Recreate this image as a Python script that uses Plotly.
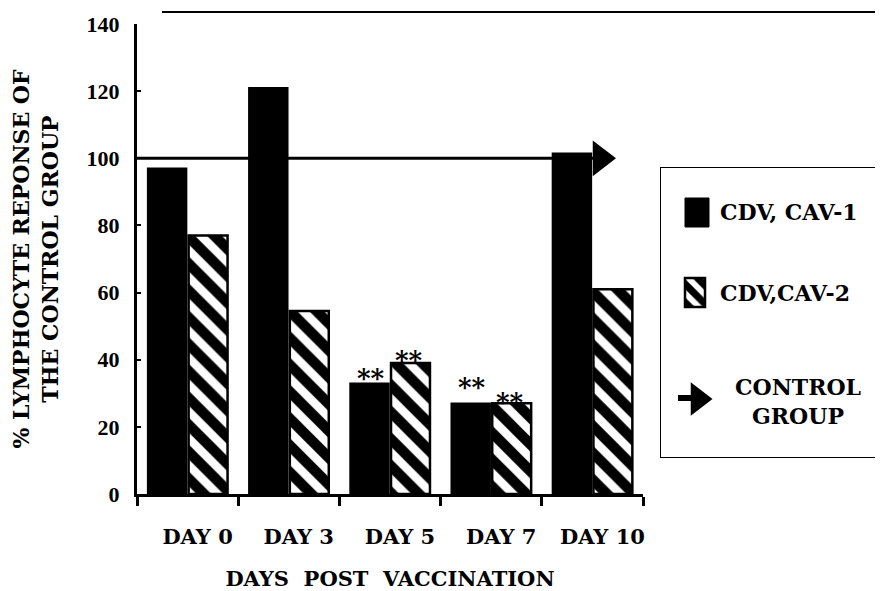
import plotly.graph_objects as go

# ---------------- data ----------------
categories = ["DAY 0", "DAY 3", "DAY 5", "DAY 7", "DAY 10"]
cdv_cav1 = [97, 121, 33, 27, 101.5]
cdv_cav2 = [77, 54.5, 39, 27, 61]
signif_cav1 = ["", "", "**", "**", ""]
signif_cav2 = ["", "", "**", "**", ""]
control_level = 100
y_ticks = [0, 20, 40, 60, 80, 100, 120, 140]

# ---------------- layout geometry (page pixels; page has an 8px body margin) ----
OFF = 8
W, H = 883 - OFF, 591 - OFF
PLOT_L, PLOT_R, PLOT_T, PLOT_B = 137, 643, 24, 494
ML = PLOT_L - OFF
MT = PLOT_T - OFF
MR = 3
MB = H - (PLOT_B - OFF)
PW = W - ML - MR
PH = H - MT - MB
XDOM_MAIN = (PLOT_R - PLOT_L) / PW


def px_x(px):
    return (px - PLOT_L) / PW


def px_y(py):
    return (PLOT_B - py) / PH


SERIF = "DejaVu Serif, Liberation Serif, serif"
NUMF = "Liberation Serif, DejaVu Serif, serif"
BLACK = "black"

BARGAP = 0.19
STAR_SHIFT_X = 19
star_yshift_1 = [0, 0, 5, 16, 0]
star_yshift_2 = [0, 0, 3, 1, 0]

hatch = dict(shape="\\", fgcolor=BLACK, bgcolor="white", fgopacity=1,
             fillmode="replace", size=19, solidity=0.55)

fig = go.Figure()

fig.add_trace(go.Bar(
    name="CDV, CAV-1", x=categories, y=cdv_cav1,
    marker=dict(color=BLACK, line=dict(color=BLACK, width=1.5)),
    showlegend=False,
))
fig.add_trace(go.Bar(
    name="CDV,CAV-2", x=categories, y=cdv_cav2,
    marker=dict(color=BLACK, line=dict(color=BLACK, width=2.5), pattern=hatch),
    showlegend=False,
))

# control group line with arrow head (overlay numeric axis aligned with categories)
n = len(categories)
arrow_center = n - 0.92
fig.add_trace(go.Scatter(
    name="CONTROL GROUP", x=[-0.5, arrow_center], y=[control_level, control_level],
    xaxis="x2", yaxis="y", mode="lines",
    line=dict(color=BLACK, width=3), showlegend=False, hoverinfo="skip",
))
fig.add_trace(go.Scatter(
    x=[arrow_center], y=[control_level], xaxis="x2", yaxis="y", mode="markers",
    marker=dict(symbol="triangle-right", size=31, color=BLACK),
    showlegend=False, hoverinfo="skip",
))

# ---------------- custom legend (axes x3/y3 span the legend box, pixel units) ----
LEG_L, LEG_R, LEG_T, LEG_B = 660, 880, 167, 458
LW, LH = LEG_R - LEG_L, LEG_B - LEG_T


def lx(px):
    return px - LEG_L


def ly(py):
    return LEG_B - py


# hatched swatch as a tiny bar
fig.add_trace(go.Bar(
    x=[(lx(685) + lx(705)) / 2], y=[ly(278) - ly(307)], base=[ly(307)],
    width=[lx(705) - lx(685)], xaxis="x3", yaxis="y3",
    marker=dict(color=BLACK, line=dict(color=BLACK, width=2.5),
                pattern=dict(hatch, size=13, solidity=0.55)),
    showlegend=False, hoverinfo="skip",
))
# arrow swatch
fig.add_trace(go.Scatter(
    x=[lx(678), lx(695)], y=[ly(398), ly(398)], xaxis="x3", yaxis="y3",
    mode="lines", line=dict(color=BLACK, width=6), showlegend=False, hoverinfo="skip",
))
fig.add_trace(go.Scatter(
    x=[lx(698)], y=[ly(399)], xaxis="x3", yaxis="y3", mode="markers",
    marker=dict(symbol="triangle-right", size=29, color=BLACK),
    showlegend=False, hoverinfo="skip",
))

shapes = [
    # top rule
    dict(type="line", xref="paper", yref="paper", x0=px_x(162), x1=px_x(883),
         y0=px_y(12), y1=px_y(12), line=dict(color=BLACK, width=2)),
    # legend box
    dict(type="rect", xref="x3", yref="y3", x0=0, x1=LW, y0=0, y1=LH,
         line=dict(color=BLACK, width=2), fillcolor="rgba(0,0,0,0)"),
    # solid swatch
    dict(type="rect", xref="x3", yref="y3", x0=lx(685), x1=lx(709),
         y0=ly(227), y1=ly(198), line=dict(color=BLACK, width=1), fillcolor=BLACK),
]

leg_font = dict(family=SERIF, size=22, color=BLACK, weight="bold")
annotations = [
    dict(text="CDV, CAV-1", xref="x3", yref="y3", x=lx(718), y=ly(212),
         xanchor="left", yanchor="middle", showarrow=False, font=leg_font),
    dict(text="CDV,CAV-2", xref="x3", yref="y3", x=lx(718), y=ly(293),
         xanchor="left", yanchor="middle", showarrow=False, font=leg_font),
    dict(text="CONTROL<br>GROUP", xref="x3", yref="y3", x=lx(798), y=ly(401),
         xanchor="center", yanchor="middle", showarrow=False, font=leg_font),
]

# significance markers
star_font = dict(family=SERIF, size=26, color=BLACK, weight="bold")
for i, cat in enumerate(categories):
    if signif_cav1[i]:
        annotations.append(dict(text=signif_cav1[i], x=cat, y=cdv_cav1[i], xref="x", yref="y",
                                xshift=-STAR_SHIFT_X, yshift=star_yshift_1[i],
                                yanchor="middle", showarrow=False, font=star_font))
    if signif_cav2[i]:
        annotations.append(dict(text=signif_cav2[i], x=cat, y=cdv_cav2[i], xref="x", yref="y",
                                xshift=STAR_SHIFT_X, yshift=star_yshift_2[i],
                                yanchor="middle", showarrow=False, font=star_font))

fig.update_layout(
    width=W, height=H,
    margin=dict(l=ML, r=MR, t=MT, b=MB, pad=0, autoexpand=False),
    paper_bgcolor="white", plot_bgcolor="white",
    barmode="group", bargap=BARGAP, bargroupgap=0.05,
    showlegend=False,
    xaxis=dict(
        type="category", domain=[0, XDOM_MAIN], range=[-0.5, n - 0.5],
        showline=True, linecolor=BLACK, linewidth=3, mirror=False,
        ticks="outside", ticklen=9, tickwidth=3, tickcolor=BLACK,
        tickson="boundaries", showgrid=False, zeroline=False,
        tickfont=dict(family=SERIF, size=21, color=BLACK, weight="bold"),
        ticklabelstandoff=22, ticklabelshift=10,
        title=dict(text="DAYS  POST  VACCINATION", standoff=28,
                   font=dict(family=SERIF, size=21, color=BLACK, weight="bold")),
        fixedrange=True,
    ),
    xaxis2=dict(overlaying="x", range=[-0.5, n - 0.5], visible=False, fixedrange=True),
    yaxis=dict(
        range=[0, 140], tickvals=y_ticks, showline=True, linecolor=BLACK, linewidth=3,
        ticks="inside", ticklen=4, tickwidth=2, tickcolor=BLACK,
        showgrid=False, zeroline=False,
        tickfont=dict(family=NUMF, size=22, color=BLACK, weight="bold"),
        ticklabelstandoff=10,
        title=dict(text="% LYMPHOCYTE REPONSE OF<br>THE CONTROL GROUP", standoff=26,
                   font=dict(family=SERIF, size=22, color=BLACK, weight="bold")),
        fixedrange=True,
    ),
    xaxis3=dict(domain=[px_x(LEG_L), px_x(LEG_R)], range=[0, LW], visible=False,
                anchor="y3", fixedrange=True),
    yaxis3=dict(domain=[px_y(LEG_B), px_y(LEG_T)], range=[0, LH], visible=False,
                anchor="x3", fixedrange=True),
    shapes=shapes,
    annotations=annotations,
)

fig.write_html("out.html")
